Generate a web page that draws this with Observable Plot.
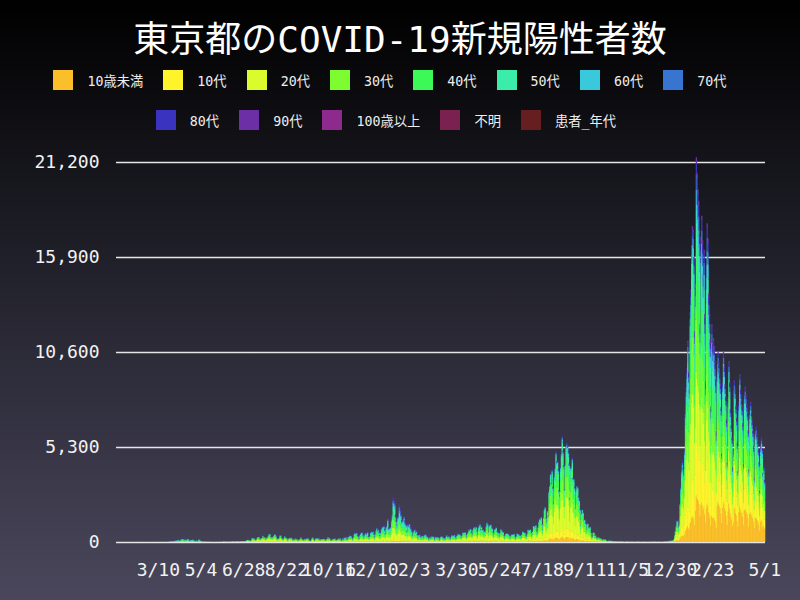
<!DOCTYPE html>
<html>
<head>
<meta charset="utf-8">
<script src="https://cdn.jsdelivr.net/npm/d3@7"></script>
<script src="https://cdn.jsdelivr.net/npm/@observablehq/plot@0.6"></script>
<style>
  html, body { margin: 0; padding: 0; }
  body {
    width: 800px; height: 600px; overflow: hidden;
    background: linear-gradient(to bottom, #000000 0%, #1a1a22 35%, #4a475c 100%);
    font-family: "DejaVu Sans Mono", "Noto Sans CJK JP", monospace;
    color: #fff;
  }
  #title { height: 62px; padding-top: 18px; box-sizing: border-box; text-align: center; font-size: 36px; line-height: 44px; }
  .lrow { display: flex; justify-content: center; height: 20px; margin-top: 8px; }
  .lrow + .lrow { margin-top: 20px; margin-right: 8px; }
  .item { display: flex; align-items: center; margin-right: 20px; font-size: 13.3px; color: #eee; }
  .sw { width: 20px; height: 20px; margin-right: 14px; }
  #chart { margin-top: 10px; }
</style>
</head>
<body>
<div id="title">東京都のCOVID-19新規陽性者数</div>
<div id="legend"></div>
<div id="chart"></div>
<script>
// categories and colours
const categories = ["10歳未満","10代","20代","30代","40代","50代","60代","70代","80代","90代","100歳以上","不明","患者_年代"];
const colors = ["#fbbf2a","#fff32c","#dafc2d","#7dfc30","#3cf957","#3aeeaa","#3ac9dc","#3875d0","#3a33bf","#6c2fa6","#8e2a8e","#7a2150","#661e20"];

// daily new positives, starting 2020-01-16
const d2020_01 = [0,0,0,0,0,0,0,0,1,1,0,0,0,0,1,0];
const d2020_02 = [0,0,0,0,0,0,0,0,0,0,0,0,1,2,8,5,0,3,3,3,3,1,2,0,2,2,1,1,1];
const d2020_03 = [2,1,2,2,8,3,5,0,1,1,6,1,8,3,0,0,6,9,3,11,7,3,16,17,41,47,40,63,68,13,78];
const d2020_04 = [66,97,89,118,143,83,80,144,178,189,197,166,91,161,127,149,201,181,107,102,123,132,134,161,103,72,39,112,47,46];
const d2020_05 = [165,154,91,87,58,38,23,39,36,22,15,28,10,30,9,11,5,10,5,5,11,3,2,14,8,10,11,15,22,14,5];
const d2020_06 = [13,34,12,28,20,26,14,13,12,18,22,25,24,47,48,27,16,41,35,39,35,29,31,55,48,54,57,60,58,54];
const d2020_07 = [67,107,124,131,111,102,75,75,224,243,206,206,119,143,165,286,293,290,188,168,237,238,366,260,295,239,131,266,250,367,463];
const d2020_08 = [472,292,258,309,263,360,462,429,331,197,188,222,206,389,385,260,161,207,186,339,258,256,212,95,182,236,250,226,247,148,100];
const d2020_09 = [170,141,211,136,181,116,77,170,149,276,187,146,146,80,191,163,171,220,218,157,98,88,59,195,270,213,132,78,212,194];
const d2020_10 = [235,196,207,143,108,174,177,168,187,180,146,78,166,177,284,185,235,124,78,139,150,185,186,203,124,102,158,171,221,122,215];
const d2020_11 = [116,87,209,122,269,242,294,189,157,293,317,393,374,352,255,180,298,493,534,522,539,391,314,186,401,481,570,561,418,311];
const d2020_12 = [372,500,533,449,584,327,299,352,572,602,595,621,480,305,460,678,822,664,736,556,392,563,748,888,884,949,708,481,856,944,1337];
const d2021_01 = [783,814,816,884,1278,1591,2447,2392,2268,1494,1219,970,1433,1502,2044,1809,1592,1204,1240,1274,1471,1175,1070,986,618,1026,973,1064,868,769,633];
const d2021_02 = [393,556,676,734,577,639,429,276,412,434,307,307,369,371,266,378,445,445,353,327,272,178,275,213,340,270,337,329];
const d2021_03 = [121,232,316,279,301,293,237,116,290,340,335,304,239,239,175,300,409,323,303,342,256,187,337,420,394,376,430,313,234,364,414];
const d2021_04 = [475,446,440,355,249,399,555,545,537,570,421,306,510,591,729,667,759,543,405,711,843,861,759,876,635,425,828,925,1027,698];
const d2021_05 = [879,708,708,609,621,591,907,1121,1032,573,925,969,1010,854,772,542,419,732,766,843,614,540,535,340,533,743,684,614,568,376,260];
const d2021_06 = [471,487,508,472,436,351,235,369,440,439,435,467,304,209,337,501,452,453,388,376,236,435,619,570,562,534,386,317,476,714];
const d2021_07 = [673,660,716,518,342,593,920,896,822,950,614,502,830,1149,1308,1271,1410,1008,727,1387,1832,1979,1359,1128,1763,1429,2848,3177,3865,3300,4058];
const d2021_08 = [3058,2195,3709,4166,5042,4515,4566,4066,2884,2612,4200,4989,5908,5094,4295,2962,4377,5386,5534,5405,5074,4392,2447,4220,4228,4704,3581,3581,3081,1915,2909];
const d2021_09 = [3168,3099,2539,2362,1853,968,1629,1834,1675,1242,1273,1067,611,1004,1052,831,782,862,537,302,253,537,531,351,382,248,154,267,267,218];
const d2021_10 = [200,196,161,87,149,144,143,138,82,60,49,77,77,62,72,66,40,29,36,41,36,26,32,19,17,29,36,21,25,23,22];
const d2021_11 = [9,18,18,22,23,28,24,9,18,24,26,23,19,13,6,21,21,21,28,26,14,8,15,13,19,17,27,12,9,9];
const d2021_12 = [17,11,18,22,15,7,18,24,21,28,25,19,11,20,20,21,26,17,11,9,21,25,23,37,44,37,29,46,76,64,78];
const d2022_01 = [79,84,103,151,390,641,922,1224,1223,871,962,2198,3124,4051,4561,4172,3919,5185,7377,8638,9699,11227,9468,8503,12813,14086,16538,17631,17433,15895,11751];
const d2022_02 = [14445,21576,20679,19767,19113,17526,12211,17113,18287,16919,14993,16386,12773,9003,15526,17864,17021,13922,12808,11354,7591,12206,11110,11444,11000,10169,9131,6211];
const d2022_03 = [9600,10700,10100,9500,8900,7600,5000,9000,10700,9900,8900,8200,6900,4500,8100,10200,9000,7500,6600,5900,4200,5100,9100,8600,7700,7000,5600,4000,7900,9450,8600];
const d2022_04 = [8000,7600,6700,4400,8300,8750,8300,7800,7300,6300,4100,7400,7900,7300,6800,6300,5400,3600,6200,6500,6100,5700,5200,4500,2900,5400,5900,5300,3900,4300];
const d2022_05 = [3500];

// age shares by period (estimated from colour bands)
const periodStarts = ["2020-01-16","2020-06-01","2020-11-01","2021-04-01","2021-07-01","2021-11-01","2022-01-01","2022-02-01","2022-03-01"];
const shares = [
  [0.01,0.02,0.19,0.18,0.17,0.16,0.10,0.08,0.06,0.02,0.001,0.01,0],
  [0.02,0.04,0.38,0.22,0.13,0.09,0.05,0.03,0.025,0.01,0,0.005,0],
  [0.03,0.05,0.25,0.18,0.16,0.14,0.08,0.06,0.04,0.02,0.001,0.003,0],
  [0.04,0.07,0.30,0.19,0.17,0.12,0.05,0.03,0.02,0.01,0,0,0],
  [0.05,0.09,0.32,0.21,0.17,0.10,0.03,0.015,0.01,0.005,0,0,0],
  [0.06,0.08,0.25,0.20,0.15,0.11,0.06,0.04,0.03,0.02,0,0,0],
  [0.08,0.12,0.27,0.18,0.15,0.09,0.05,0.03,0.02,0.01,0,0,0],
  [0.12,0.14,0.18,0.16,0.16,0.10,0.05,0.04,0.03,0.015,0.0005,0,0],
  [0.21,0.15,0.14,0.16,0.14,0.09,0.04,0.03,0.02,0.01,0,0,0]
];

const yTicks = [0,5300,10600,15900,21200];
const tickDates = ["2020-03-10","2020-05-04","2020-06-28","2020-08-22","2020-10-16","2020-12-10","2021-02-03","2021-03-30","2021-05-24","2021-07-18","2021-09-11","2021-11-05","2021-12-30","2022-02-23","2022-05-01"];

const totals = [].concat(d2020_01,d2020_02,d2020_03,d2020_04,d2020_05,d2020_06,d2020_07,d2020_08,d2020_09,d2020_10,d2020_11,d2020_12,
  d2021_01,d2021_02,d2021_03,d2021_04,d2021_05,d2021_06,d2021_07,d2021_08,d2021_09,d2021_10,d2021_11,d2021_12,
  d2022_01,d2022_02,d2022_03,d2022_04,d2022_05);

const parse = d3.utcParse("%Y-%m-%d");
const start = parse("2020-01-16");
const pStarts = periodStarts.map(parse);
const rows = [];
totals.forEach((t, i) => {
  const date = d3.utcDay.offset(start, i);
  let p = 0;
  for (let j = 0; j < pStarts.length; j++) if (date >= pStarts[j]) p = j;
  categories.forEach((c, k) => {
    rows.push({date, age: c, value: Math.round(t * shares[p][k])});
  });
});
const end = d3.utcDay.offset(start, totals.length);

// legend
const legend = document.getElementById("legend");
[categories.slice(0, 8), categories.slice(8)].forEach(group => {
  const row = document.createElement("div");
  row.className = "lrow";
  group.forEach(c => {
    const it = document.createElement("div");
    it.className = "item";
    const sw = document.createElement("div");
    sw.className = "sw";
    sw.style.background = colors[categories.indexOf(c)];
    const tx = document.createElement("span");
    tx.textContent = c;
    it.appendChild(sw); it.appendChild(tx);
    row.appendChild(it);
  });
  legend.appendChild(row);
});

const chart = Plot.plot({
  width: 800,
  height: 460,
  marginLeft: 116,
  marginRight: 35,
  marginTop: 22,
  marginBottom: 58,
  style: {background: "transparent", color: "#f2f2f2", fontFamily: "DejaVu Sans Mono, Noto Sans CJK JP, monospace", fontSize: "18px"},
  x: {type: "utc", domain: [start, end], ticks: tickDates.map(parse), tickFormat: d3.utcFormat("%-m/%-d"), tickSize: 0, tickPadding: 21, label: null},
  y: {domain: [0, 21200], ticks: yTicks, tickFormat: d3.format(","), tickSize: 0, tickPadding: 17, label: null},
  color: {domain: categories, range: colors},
  marks: [
    Plot.ruleY(yTicks, {stroke: "#e6e6e6", strokeWidth: 1.5}),
    Plot.rectY(rows, {x: "date", interval: "day", y: "value", fill: "age", insetLeft: -0.3, insetRight: -0.3, insetTop: 0, insetBottom: 0})
  ]
});
document.getElementById("chart").appendChild(chart);
</script>
</body>
</html>
